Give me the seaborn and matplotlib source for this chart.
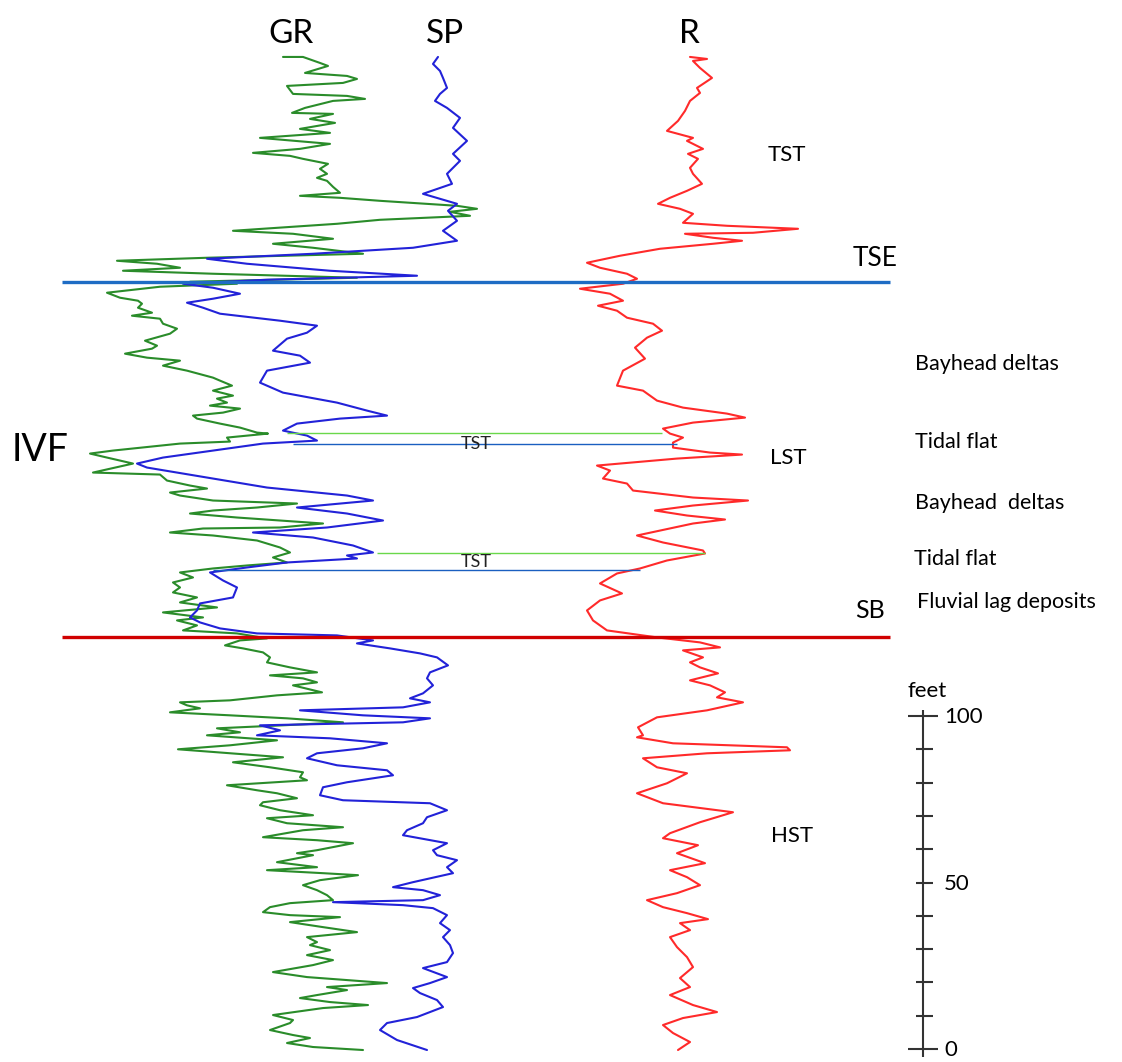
import matplotlib
matplotlib.use("Agg")
import matplotlib.pyplot as plt
import seaborn as sns

# ---------------- data (depth in feet above log base, values in track units) -------------
gr_depth = [297.9, 297.9, 296.1, 295.2, 293.1, 292.2, 291.3, 290.1, 289.2, 286.8, 286.2, 285.3, 284.7, 282.6,
            281.1, 280.8, 279.3, 278.1, 276.3, 275.1, 273.6, 272.7, 271.8, 270.3, 269.1, 268.2, 267.3, 265.8,
            264.3, 262.8, 261.6, 260.7, 258.9, 257.1, 256.2, 255.6, 254.7, 253.2, 252.3, 251.4, 250.2, 249.0,
            247.8, 245.7, 244.8, 243.3, 241.8, 240.6, 238.8, 237.6, 236.7, 235.8, 234.6, 233.7, 232.8, 231.6,
            230.4, 229.8, 228.9, 227.1, 225.6, 224.7, 223.8, 222.6, 221.1, 220.2, 219.3, 217.8, 216.3, 214.8,
            212.7, 211.2, 210.3, 208.8, 207.6, 206.7, 205.2, 203.7, 201.6, 200.7, 199.2, 197.7, 196.2, 195.3,
            194.1, 193.2, 192.3, 191.1, 190.2, 189.3, 187.8, 186.6, 185.1, 184.8, 183.6, 182.4, 181.8, 179.7,
            178.8, 177.6, 175.8, 173.1, 172.5, 170.7, 169.2, 168.3, 167.1, 166.2, 164.7, 163.8, 162.6, 161.7,
            160.8, 159.6, 158.7, 157.8, 156.6, 156.3, 155.1, 154.2, 152.7, 150.6, 149.1, 147.6, 146.1, 145.2,
            144.3, 143.1, 141.6, 140.1, 138.6, 137.1, 135.6, 134.1, 132.6, 131.1, 129.6, 128.7, 127.2, 125.7,
            124.8, 123.3, 122.7, 121.2, 120.3, 119.1, 117.6, 116.1, 114.6, 113.1, 112.2, 111.3, 110.1, 109.2,
            107.1, 106.2, 104.7, 104.1, 103.2, 102.3, 101.1, 100.2, 99.3, 98.1, 97.2, 96.3, 95.1, 94.2,
            92.7, 91.2, 90.0, 88.8, 87.6, 86.1, 84.6, 83.1, 81.6, 80.7, 79.2, 77.7, 76.8, 75.3,
            74.1, 73.2, 71.7, 70.2, 69.3, 67.8, 66.6, 65.7, 63.6, 62.7, 61.8, 59.7, 58.8, 58.2,
            56.1, 54.6, 53.7, 52.8, 52.2, 50.7, 49.2, 47.7, 46.2, 44.7, 43.8, 42.6, 41.1, 40.2,
            39.6, 38.1, 36.6, 35.1, 33.6, 32.1, 31.2, 29.7, 28.2, 26.7, 25.2, 23.1, 21.6, 20.7,
            19.8, 18.6, 17.7, 16.2, 15.3, 14.1, 13.2, 12.3, 10.2, 8.7, 7.8, 5.7, 4.2, 3.3,
            1.8, 0.6, -0.3]
gr_value = [283, 303, 320, 328, 305, 347, 357, 343, 287, 293, 347, 365, 333, 305,
            292, 333, 310, 335, 300, 330, 260, 295, 330, 300, 253, 290, 303, 328,
            320, 327, 317, 327, 333, 340, 300, 340, 380, 457, 477, 450, 470, 380,
            337, 233, 293, 333, 273, 313, 363, 207, 117, 157, 180, 123, 213, 357,
            190, 237, 160, 107, 120, 138, 142, 138, 152, 132, 160, 163, 177, 170,
            145, 157, 152, 125, 147, 180, 163, 187, 213, 220, 232, 213, 233, 217,
            227, 210, 240, 223, 193, 197, 220, 240, 257, 268, 227, 230, 180, 113,
            90, 107, 133, 93, 160, 167, 190, 207, 170, 180, 213, 297, 257, 213,
            190, 237, 280, 323, 280, 203, 170, 213, 257, 280, 290, 273, 287, 247,
            213, 180, 193, 173, 180, 173, 197, 180, 217, 163, 203, 177, 197, 183,
            237, 267, 240, 225, 243, 263, 270, 267, 290, 317, 270, 303, 317, 293,
            322, 277, 230, 180, 187, 200, 170, 230, 287, 343, 283, 217, 240, 207,
            277, 230, 178, 230, 283, 233, 270, 303, 300, 307, 227, 257, 277, 297,
            263, 260, 280, 313, 267, 287, 343, 303, 263, 317, 353, 317, 297, 313,
            277, 317, 267, 323, 358, 320, 303, 317, 327, 333, 290, 270, 263, 290,
            340, 290, 323, 357, 307, 317, 310, 330, 307, 333, 313, 273, 307, 347,
            387, 327, 347, 317, 300, 330, 368, 323, 273, 293, 290, 270, 293, 310,
            287, 313, 363]

sp_depth = [297.9, 295.8, 293.7, 291.6, 288.6, 286.8, 284.7, 282.6, 279.6, 276.6, 272.7, 268.8, 266.7, 262.8,
            259.8, 256.8, 255.3, 253.8, 251.7, 248.7, 245.7, 242.7, 240.6, 238.8, 237.3, 235.8, 233.7, 232.2,
            231.0, 229.8, 228.6, 226.8, 225.3, 224.1, 222.6, 220.8, 218.7, 217.2, 215.1, 213.3, 209.7, 208.2,
            206.1, 203.7, 200.1, 197.1, 194.1, 191.7, 190.2, 189.3, 187.8, 185.7, 184.2, 182.7, 181.8, 179.7,
            177.6, 175.8, 174.6, 171.6, 168.6, 166.2, 164.7, 162.6, 160.8, 158.7, 156.6, 155.1, 153.6, 151.2,
            149.1, 148.2, 147.3, 146.1, 144.6, 143.1, 140.7, 138.6, 135.6, 133.8, 131.7, 129.6, 128.1, 126.3,
            124.8, 124.2, 122.7, 121.8, 120.3, 118.8, 117.6, 115.2, 113.1, 111.3, 109.2, 106.8, 105.3, 104.1,
            102.6, 101.7, 100.2, 99.3, 98.1, 97.2, 95.7, 94.2, 93.3, 91.8, 90.3, 88.8, 87.3, 85.2,
            83.7, 82.2, 80.1, 78.6, 76.2, 74.7, 73.8, 71.7, 69.6, 67.8, 65.7, 64.2, 61.8, 59.7,
            58.2, 56.7, 54.6, 52.8, 50.1, 48.6, 47.7, 46.2, 44.7, 44.1, 43.2, 42.3, 40.2, 37.8,
            35.7, 33.6, 31.2, 28.8, 26.1, 24.3, 21.6, 19.8, 18.3, 16.8, 14.7, 12.6, 9.6, 7.8,
            5.7, 2.7, -0.3]
sp_value = [438, 433, 440, 443, 447, 440, 435, 447, 460, 453, 467, 453, 460, 447,
            452, 423, 440, 457, 448, 457, 443, 457, 413, 313, 207, 247, 330, 417,
            267, 183, 213, 240, 213, 187, 203, 220, 280, 317, 307, 287, 273, 300,
            310, 267, 260, 283, 337, 367, 387, 340, 297, 283, 307, 317, 263, 213,
            163, 137, 147, 207, 267, 347, 373, 297, 347, 383, 327, 253, 313, 353,
            373, 347, 357, 287, 247, 210, 223, 237, 233, 200, 197, 190, 200, 220,
            257, 337, 373, 357, 390, 420, 437, 448, 430, 427, 433, 423, 410, 430,
            403, 300, 363, 430, 403, 260, 280, 257, 330, 387, 363, 317, 307, 337,
            387, 393, 347, 323, 320, 343, 430, 447, 427, 423, 407, 403, 447, 433,
            437, 457, 447, 453, 413, 393, 423, 440, 423, 333, 403, 433, 447, 440,
            450, 443, 450, 453, 447, 423, 447, 430, 413, 420, 437, 443, 417, 387,
            380, 397, 427]

r_depth = [297.9, 297.3, 296.7, 294.6, 291.6, 288.6, 287.1, 284.7, 281.7, 278.7, 275.7, 273.6, 272.7, 270.3,
           268.8, 267.3, 264.6, 262.8, 259.8, 257.7, 255.6, 253.8, 252.3, 250.8, 248.1, 247.2, 246.3, 245.1,
           244.8, 243.6, 242.7, 241.8, 240.3, 238.2, 236.1, 234.6, 232.8, 231.3, 229.8, 228.3, 226.8, 224.7,
           223.2, 221.7, 219.6, 217.8, 215.7, 213.6, 210.6, 207.3, 203.7, 199.2, 197.7, 194.7, 192.6, 190.8,
           189.6, 188.1, 186.3, 184.8, 183.6, 182.1, 180.6, 179.1, 178.5, 177.3, 175.2, 173.7, 171.3, 169.8,
           167.7, 165.6, 164.7, 163.2, 161.7, 160.2, 159.0, 157.8, 154.2, 152.1, 149.7, 148.8, 146.7, 144.3,
           142.8, 139.8, 136.8, 134.7, 131.7, 128.7, 125.7, 123.6, 122.1, 120.6, 119.7, 117.6, 116.1, 114.6,
           112.8, 110.7, 109.2, 107.1, 105.6, 104.1, 101.7, 99.6, 96.6, 94.2, 93.6, 91.8, 90.6, 89.7,
           88.8, 87.3, 84.6, 82.8, 79.8, 76.8, 73.8, 71.1, 68.1, 64.8, 63.3, 61.2, 58.8, 55.8,
           53.7, 51.6, 49.2, 46.8, 44.7, 42.6, 40.8, 39.0, 37.8, 35.7, 33.6, 30.6, 27.6, 24.6,
           21.3, 18.6, 16.2, 13.2, 11.1, 9.3, 7.2, 4.8, 2.1, -0.3]
r_value = [690, 707, 693, 700, 712, 697, 700, 690, 685, 678, 667, 693, 687, 703,
           688, 698, 690, 693, 702, 687, 670, 658, 680, 693, 683, 727, 798, 753,
           685, 713, 742, 713, 660, 620, 587, 600, 627, 637, 623, 580, 610, 623,
           598, 617, 627, 653, 662, 647, 635, 645, 623, 617, 643, 657, 683, 727,
           745, 693, 663, 670, 683, 673, 673, 710, 742, 677, 597, 610, 603, 627,
           633, 693, 748, 693, 655, 687, 725, 693, 637, 663, 703, 705, 667, 640,
           617, 600, 622, 600, 587, 593, 607, 657, 700, 720, 683, 703, 690, 700,
           718, 690, 710, 725, 717, 743, 707, 657, 638, 643, 637, 673, 787, 790,
           707, 643, 657, 687, 667, 637, 663, 733, 700, 670, 663, 698, 677, 705,
           670, 687, 700, 677, 647, 663, 687, 708, 680, 690, 670, 677, 687, 693,
           680, 690, 670, 693, 717, 683, 663, 673, 690, 678]

# surfaces (depth in feet) and track names
tse_depth = 230.4
sb_depth = 123.8
flood_green = [185.1, 149.0]
flood_blue = [181.8, 143.7]
track_names = ["GR", "SP", "R"]
scale_ticks = list(range(0, 101, 10))
scale_labels = {100: "100", 50: "50", 0: "0"}

# ---------------- figure ----------------
sns.set_theme(style="white")
plt.rcParams["font.family"] = ["Lato", "DejaVu Sans"]

fig = plt.figure(figsize=(11.22, 10.62), dpi=100)
ax = fig.add_axes([0, 0, 1, 1])
ax.set_xlim(0, 1122)
ax.set_ylim(-3.9, 315.0)
ax.axis("off")

GREEN = "#2a8c2a"
BLUE = "#2222d8"
RED = "#ff2a2a"

sns.lineplot(x=gr_value, y=gr_depth, sort=False, estimator=None, ax=ax, color=GREEN, lw=1.5, zorder=3)
sns.lineplot(x=sp_value, y=sp_depth, sort=False, estimator=None, ax=ax, color=BLUE, lw=1.5, zorder=4)
sns.lineplot(x=r_value, y=r_depth, sort=False, estimator=None, ax=ax, color=RED, lw=1.5, zorder=4)

# key surfaces
ax.hlines(tse_depth, 62, 890, color="#1e6cc4", lw=2.4, zorder=6)
ax.hlines(sb_depth, 62, 890, color="#d00000", lw=2.4, zorder=6)
ax.hlines(flood_green[0], 287, 662, color="#6ad84a", lw=1.0, zorder=5)
ax.hlines(flood_blue[0], 293, 677, color="#1a5fc0", lw=1.0, zorder=5)
ax.hlines(flood_green[1], 377, 705, color="#6ad84a", lw=1.0, zorder=5)
ax.hlines(flood_blue[1], 213, 640, color="#1a5fc0", lw=1.0, zorder=5)

# track headers
for name, xc in zip(track_names, [291, 445, 689]):
    ax.text(xc, 302.1, name, ha="center", va="baseline", fontsize=24, color="black")

ax.text(40, 176.7, "IVF", ha="center", va="baseline", fontsize=27, color="black")

# systems tract / facies labels
ax.text(787, 266.7, "TST", ha="center", va="baseline", fontsize=16, color="black")
ax.text(853, 235.2, "TSE", ha="left", va="baseline", fontsize=19, color="black")
ax.text(915, 204.0, "Bayhead deltas", ha="left", va="baseline", fontsize=15.5, color="black")
ax.text(915, 180.6, "Tidal flat", ha="left", va="baseline", fontsize=15.5, color="black")
ax.text(788, 175.8, "LST", ha="center", va="baseline", fontsize=16, color="black")
ax.text(915, 162.3, "Bayhead  deltas", ha="left", va="baseline", fontsize=15.5, color="black")
ax.text(914, 145.2, "Tidal flat", ha="left", va="baseline", fontsize=15.5, color="black")
ax.text(917, 132.3, "Fluvial lag deposits", ha="left", va="baseline", fontsize=15.5, color="black")
ax.text(855, 129.3, "SB", ha="left", va="baseline", fontsize=18, color="black")
ax.text(792, 62.1, "HST", ha="center", va="baseline", fontsize=16, color="black")
ax.text(476, 180.3, "TST", ha="center", va="baseline", fontsize=13, color="#222222", zorder=7)
ax.text(476, 144.6, "TST", ha="center", va="baseline", fontsize=13, color="#222222", zorder=7)

# depth scale bar
SC = "#333333"
ax.vlines(923, -2.4, 101.7, color=SC, lw=1.5)
for t in scale_ticks:
    if t in (0, 100):
        ax.hlines(t, 908, 938, color=SC, lw=1.5)
    else:
        ax.hlines(t, 916, 933, color=SC, lw=1.5)
for t, lab in scale_labels.items():
    ax.text(944, t - 2.2, lab, ha="left", va="baseline", fontsize=16, color="black")
ax.text(908, 105.6, "feet", ha="left", va="baseline", fontsize=16, color="black")

fig.savefig("out.png", dpi=100, facecolor="white")
